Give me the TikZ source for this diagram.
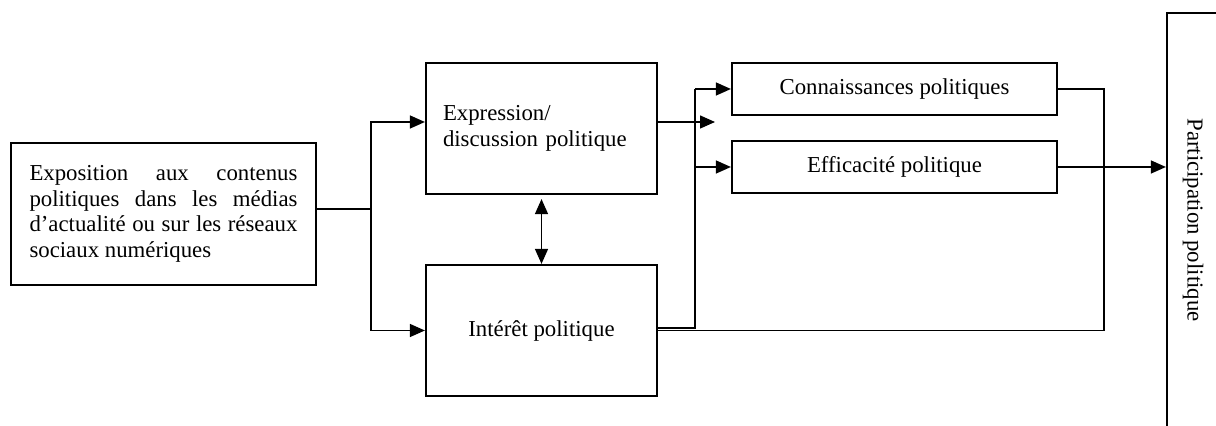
\documentclass[tikz,border=0pt]{standalone}
\usepackage{fontspec}
\setmainfont{Liberation Serif}
\usetikzlibrary{arrows.meta}

\begin{document}
\begin{tikzpicture}[x=0.5pt,y=-0.5pt,
	font=\fontsize{11.4}{12.75}\selectfont,
	box/.style={draw, line width=1.1pt, inner sep=0pt},
	link/.style={line width=0.7pt},
	arr/.style={link, -{Triangle[length=7.5pt,width=6.5pt]}}]
\useasboundingbox (0,0) rectangle (1216,426);

\node[box, minimum width=152.5pt, minimum height=71pt, text width=134pt, align=justify] (expo) at (163.5,214)
	{Exposition aux contenus\linebreak politiques dans les médias\linebreak d'actualité ou sur les réseaux\linebreak sociaux numériques};
\node[box, minimum width=115.5pt, minimum height=65.5pt, text width=98.5pt, align=left] (expr) at (541.5,128.5)
	{Expression/\\discussion politique};
\node[box, minimum width=115.5pt, minimum height=65.5pt] (inter) at (541.5,330.5) {Intérêt politique};
\node[box, minimum width=162.5pt, minimum height=26pt] (conn) at (894.5,89) {Connaissances politiques};
\node[box, minimum width=162.5pt, minimum height=26pt] (eff) at (894.5,167) {Efficacité politique};
\node[box, rotate=-90, minimum width=207pt, minimum height=26pt] (part) at (1193,220) {Participation politique};

\coordinate (fork) at (371,209);
\coordinate (bus) at (695,0);
\coordinate (back) at (1104,0);
\coordinate (stub) at (715,122);

% from exposition
\draw[link] (fork -| expo.east) -- (fork);
\draw[arr] (fork) |- ([yshift=3.25pt]expr.west);
\draw[arr] (fork) |- (inter.west);
\draw[link, {Triangle[length=7.5pt,width=6.5pt]}-{Triangle[length=7.5pt,width=6.5pt]}, shorten <=2pt] (expr.south) -- (inter.north);

% to connaissances / efficacite
\draw[arr] ([yshift=3.25pt]expr.east) -- (stub);
\draw[link] ([yshift=1.25pt]inter.east) -| (bus |- conn.west);
\draw[arr] (bus |- conn.west) -- (conn.west);
\draw[arr] (bus |- eff.west) -- (eff.west);

% to participation
\draw[link] (conn.east) -| (back |- inter.east) -- (inter.east);
\draw[arr] (eff.east) -- (part.south |- eff.east);

\end{tikzpicture}
\end{document}
